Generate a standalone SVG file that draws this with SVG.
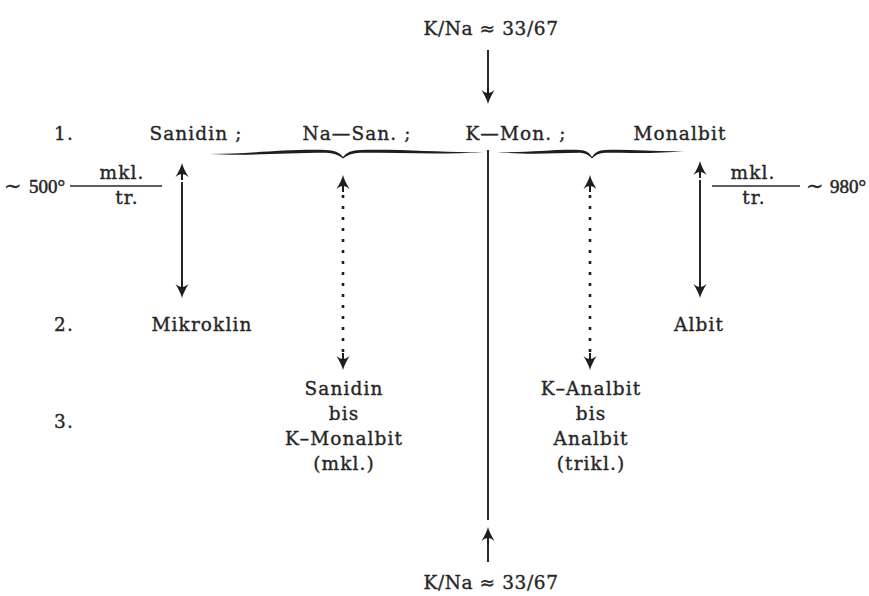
<svg xmlns="http://www.w3.org/2000/svg" width="869" height="596" viewBox="0 0 869 596">
  <style>
    text { font-family: "DejaVu Serif", "Liberation Serif", serif; font-size: 18.5px; fill: #262626; stroke: #262626; stroke-width: 0.35; letter-spacing: 1.1px; }
    .c { text-anchor: middle; }
    .ratio { letter-spacing: 0.6px; }
    .temp { letter-spacing: 0; font-family: "Liberation Serif", "DejaVu Serif", serif; font-size: 19px; stroke-width: 0.5; }
    .tilde { letter-spacing: 0; font-size: 21px; }
    .ln { stroke: #1e1e1e; stroke-width: 1.9; fill: none; }
    .dot { stroke: #1e1e1e; stroke-width: 2.6; fill: none; stroke-dasharray: 3 8; }
    .frac { stroke: #2a2a2a; stroke-width: 1.3; }
    .brace { fill: #1e1e1e; }
  </style>
  <defs>
    <!-- barbed arrowhead, tip at origin, pointing up -->
    <g id="head-up">
      <path d="M0,0 C1,4 3.5,9 6.5,14 C4,12 1.8,10.5 0,11.5 C-1.8,10.5 -4,12 -6.5,14 C-3.5,9 -1,4 0,0 Z" fill="#1e1e1e"/>
      <line x1="0" y1="8" x2="0" y2="17" stroke="#1e1e1e" stroke-width="2"/>
    </g>
  </defs>
  <rect width="869" height="596" fill="#ffffff"/>

  <!-- composition at the top and bottom -->
  <g id="ratio-top">
    <text x="491" y="35" class="c ratio">K/Na ≈ 33/67</text>
  </g>
  <g id="ratio-bottom">
    <text x="491" y="589" class="c ratio">K/Na ≈ 33/67</text>
  </g>

  <!-- row labels -->
  <g id="row-labels">
    <text x="64" y="140" class="c">1.</text>
    <text x="64" y="331" class="c">2.</text>
    <text x="64" y="428" class="c">3.</text>
  </g>

  <!-- row 1 -->
  <g id="sanidin"><text x="196" y="140" class="c">Sanidin ;</text></g>
  <g id="na-san"><text x="357" y="140" class="c">Na—San. ;</text></g>
  <g id="k-mon"><text x="516" y="140" class="c">K—Mon. ;</text></g>
  <g id="monalbit"><text x="680" y="140" class="c">Monalbit</text></g>

  <!-- row 2 -->
  <g id="mikroklin"><text x="202" y="331" class="c">Mikroklin</text></g>
  <g id="albit"><text x="699" y="331" class="c">Albit</text></g>

  <!-- row 3 -->
  <g id="sanidin-k-monalbit">
    <text x="344" y="395" class="c">Sanidin</text>
    <text x="344" y="420" class="c">bis</text>
    <text x="344" y="445" class="c">K–Monalbit</text>
    <text x="344" y="470" class="c">(mkl.)</text>
  </g>
  <g id="k-analbit-analbit">
    <text x="591" y="395" class="c">K–Analbit</text>
    <text x="591" y="420" class="c">bis</text>
    <text x="591" y="445" class="c">Analbit</text>
    <text x="591" y="470" class="c">(trikl.)</text>
  </g>

  <!-- transition labels -->
  <g id="label-500">
    <text x="4" y="193" class="tilde">∼</text>
    <text x="29" y="193" class="temp">500°</text>
    <line class="frac" x1="70" y1="186" x2="162" y2="186"/>
    <text x="122" y="179" class="c">mkl.</text>
    <text x="127" y="204" class="c">tr.</text>
  </g>
  <g id="label-980">
    <line class="frac" x1="712" y1="186" x2="800" y2="186"/>
    <text x="753" y="179" class="c">mkl.</text>
    <text x="754" y="204" class="c">tr.</text>
    <text x="806" y="193" class="tilde">∼</text>
    <text x="830" y="193" class="temp">980°</text>
  </g>

  <!-- braces grouping the row-1 phases -->
  <g id="braces">
    <path class="brace" d="M210,154 C250,154 282,149 326,150 Q338,150 343,157 Q348,150 360,150 C405,149 445,153 483,152 C445,154.8 405,152.8 360,152.8 Q350,153 343,158.5 Q336,153 326,152.8 C282,152.8 250,156.2 210,154 Z"/>
    <path class="brace" d="M497,152 C530,153 555,149 580,150 Q588,150 592,157 Q596,150 605,150 C630,149 660,152 685,151 C660,153.8 630,152.8 605,152.8 Q597,153 592,158.5 Q587,153 580,152.8 C555,152.8 530,155.2 497,152 Z"/>
  </g>

  <!-- connectors -->
  <g id="connectors">
    <line class="ln" x1="488" y1="50" x2="488" y2="92"/>
    <use href="#head-up" transform="translate(488,104) scale(1,-1)"/>

    <line class="ln" x1="488" y1="150" x2="488" y2="520"/>
    <use href="#head-up" transform="translate(488,527)"/>
    <line class="ln" x1="488" y1="540" x2="488" y2="562"/>

    <!-- Sanidin / Mikroklin -->
    <use href="#head-up" transform="translate(182,163)"/>
    <line class="ln" x1="182" y1="182" x2="182" y2="282"/>
    <use href="#head-up" transform="translate(182,298) scale(1,-1)"/>

    <!-- Na-San. / Sanidin bis K-Monalbit -->
    <use href="#head-up" transform="translate(343,175)"/>
    <line class="dot" x1="343" y1="195" x2="343" y2="355"/>
    <use href="#head-up" transform="translate(343,370) scale(1,-1)"/>

    <!-- K-Mon. / K-Analbit bis Analbit -->
    <use href="#head-up" transform="translate(590,175)"/>
    <line class="dot" x1="590" y1="195" x2="590" y2="355"/>
    <use href="#head-up" transform="translate(590,370) scale(1,-1)"/>

    <!-- Monalbit / Albit -->
    <use href="#head-up" transform="translate(700,161)"/>
    <line class="ln" x1="700" y1="180" x2="700" y2="282"/>
    <use href="#head-up" transform="translate(700,298) scale(1,-1)"/>
  </g>
</svg>
